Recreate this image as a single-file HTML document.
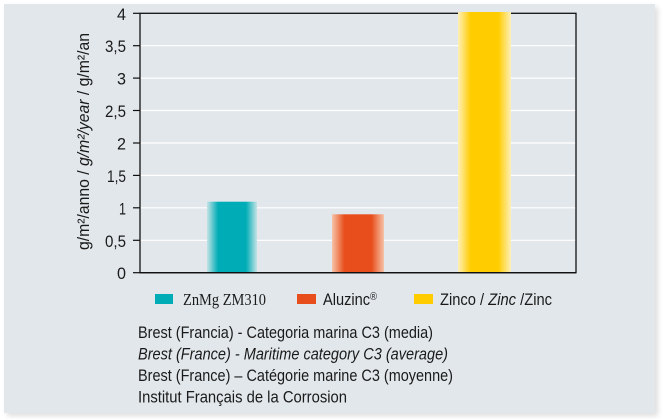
<!DOCTYPE html>
<html>
<head>
<meta charset="utf-8">
<style>
  html, body { margin:0; padding:0; background:#ffffff; }
  body { width:663px; height:419px; position:relative; overflow:hidden; }
  .panel { position:absolute; left:4px; top:4px; width:651px; height:409px; background:#e2e7eb;
           box-shadow: 3px 3px 5px rgba(0,0,0,0.13); }
  svg { position:absolute; left:0; top:0; }
  text { font-family:"Liberation Sans", sans-serif; fill:#1a1a1a; }
</style>
</head>
<body>
<div class="panel"></div>
<svg width="663" height="419" viewBox="0 0 663 419" xmlns="http://www.w3.org/2000/svg">
  <defs>
    <linearGradient id="gTeal" x1="0" y1="0" x2="1" y2="0">
      <stop offset="0" stop-color="#c4e3e6"/>
      <stop offset="0.22" stop-color="#00adb6"/>
      <stop offset="0.78" stop-color="#00adb6"/>
      <stop offset="1" stop-color="#c4e3e6"/>
    </linearGradient>
    <linearGradient id="gOrange" x1="0" y1="0" x2="1" y2="0">
      <stop offset="0" stop-color="#f6c3a8"/>
      <stop offset="0.24" stop-color="#e84e1b"/>
      <stop offset="0.76" stop-color="#e84e1b"/>
      <stop offset="1" stop-color="#f6c3a8"/>
    </linearGradient>
    <linearGradient id="gYellow" x1="0" y1="0" x2="1" y2="0">
      <stop offset="0" stop-color="#fff0b8"/>
      <stop offset="0.24" stop-color="#ffcc00"/>
      <stop offset="0.76" stop-color="#ffcc00"/>
      <stop offset="1" stop-color="#fff0b8"/>
    </linearGradient>
  </defs>

  <!-- gridlines -->
  <g stroke="#ffffff" stroke-width="1.2">
    <line x1="140" y1="45.7" x2="576" y2="45.7"/>
    <line x1="140" y1="78.1" x2="576" y2="78.1"/>
    <line x1="140" y1="110.5" x2="576" y2="110.5"/>
    <line x1="140" y1="143.0" x2="576" y2="143.0"/>
    <line x1="140" y1="175.4" x2="576" y2="175.4"/>
    <line x1="140" y1="207.8" x2="576" y2="207.8"/>
    <line x1="140" y1="240.3" x2="576" y2="240.3"/>
  </g>

  <!-- frame -->
  <rect x="140" y="13.3" width="436" height="259.4" fill="none" stroke="#111" stroke-width="1.3"/>

  <!-- ticks -->
  <g stroke="#111" stroke-width="1.2">
    <line x1="133" y1="13.3" x2="140" y2="13.3"/>
    <line x1="133" y1="45.7" x2="140" y2="45.7"/>
    <line x1="133" y1="78.1" x2="140" y2="78.1"/>
    <line x1="133" y1="110.5" x2="140" y2="110.5"/>
    <line x1="133" y1="143.0" x2="140" y2="143.0"/>
    <line x1="133" y1="175.4" x2="140" y2="175.4"/>
    <line x1="133" y1="207.8" x2="140" y2="207.8"/>
    <line x1="133" y1="240.3" x2="140" y2="240.3"/>
    <line x1="133" y1="272.7" x2="140" y2="272.7"/>
  </g>

  <!-- bars -->
  <rect x="207" y="201.7" width="50" height="71" fill="url(#gTeal)"/>
  <rect x="332" y="214.3" width="52" height="58.4" fill="url(#gOrange)"/>
  <rect x="458" y="12" width="53" height="260.7" fill="url(#gYellow)"/>
  <line x1="140" y1="272.7" x2="576" y2="272.7" stroke="#111" stroke-width="1.3"/>

  <!-- tick labels -->
  <g font-size="17" text-anchor="end">
    <text x="126" y="19.8" textLength="9" lengthAdjust="spacingAndGlyphs">4</text>
    <text x="126" y="52.2" textLength="21" lengthAdjust="spacingAndGlyphs">3,5</text>
    <text x="126" y="84.6" textLength="9" lengthAdjust="spacingAndGlyphs">3</text>
    <text x="126" y="117.0" textLength="21" lengthAdjust="spacingAndGlyphs">2,5</text>
    <text x="126" y="149.5" textLength="9" lengthAdjust="spacingAndGlyphs">2</text>
    <text x="126" y="181.9" textLength="19" lengthAdjust="spacingAndGlyphs">1,5</text>
    <text x="126" y="214.3" textLength="7" lengthAdjust="spacingAndGlyphs">1</text>
    <text x="126" y="246.8" textLength="21" lengthAdjust="spacingAndGlyphs">0,5</text>
    <text x="126" y="279.2" textLength="9" lengthAdjust="spacingAndGlyphs">0</text>
  </g>

  <!-- y axis label -->
  <text transform="translate(89,141.5) rotate(-90)" font-size="17" text-anchor="middle" textLength="217" lengthAdjust="spacingAndGlyphs">g/m²/anno / <tspan font-style="italic">g/m²/year</tspan> / g/m²/an</text>

  <!-- legend -->
  <rect x="155" y="294" width="18" height="10" fill="#00adb6"/>
  <text x="183" y="305" style="font-family:'Liberation Serif', serif" font-size="16.5" textLength="83" lengthAdjust="spacingAndGlyphs">ZnMg ZM310</text>
  <rect x="297" y="294" width="19" height="10" fill="#e84e1b"/>
  <text x="323" y="305" font-size="17" textLength="54" lengthAdjust="spacingAndGlyphs">Aluzinc<tspan font-size="11" dy="-5">®</tspan></text>
  <rect x="414" y="294" width="19" height="10" fill="#ffcc00"/>
  <text x="440" y="305" font-size="17" textLength="112" lengthAdjust="spacingAndGlyphs">Zinco / <tspan font-style="italic">Zinc</tspan> /Zinc</text>

  <!-- notes -->
  <g font-size="17">
    <text x="138" y="338" textLength="295" lengthAdjust="spacingAndGlyphs">Brest (Francia) - Categoria marina C3 (media)</text>
    <text x="138" y="359.5" font-style="italic" textLength="310" lengthAdjust="spacingAndGlyphs">Brest (France) - Maritime category C3 (average)</text>
    <text x="138" y="381" textLength="315" lengthAdjust="spacingAndGlyphs">Brest (France) – Catégorie marine C3 (moyenne)</text>
    <text x="138" y="402.5" textLength="209" lengthAdjust="spacingAndGlyphs">Institut Français de la Corrosion</text>
  </g>
</svg>
</body>
</html>
